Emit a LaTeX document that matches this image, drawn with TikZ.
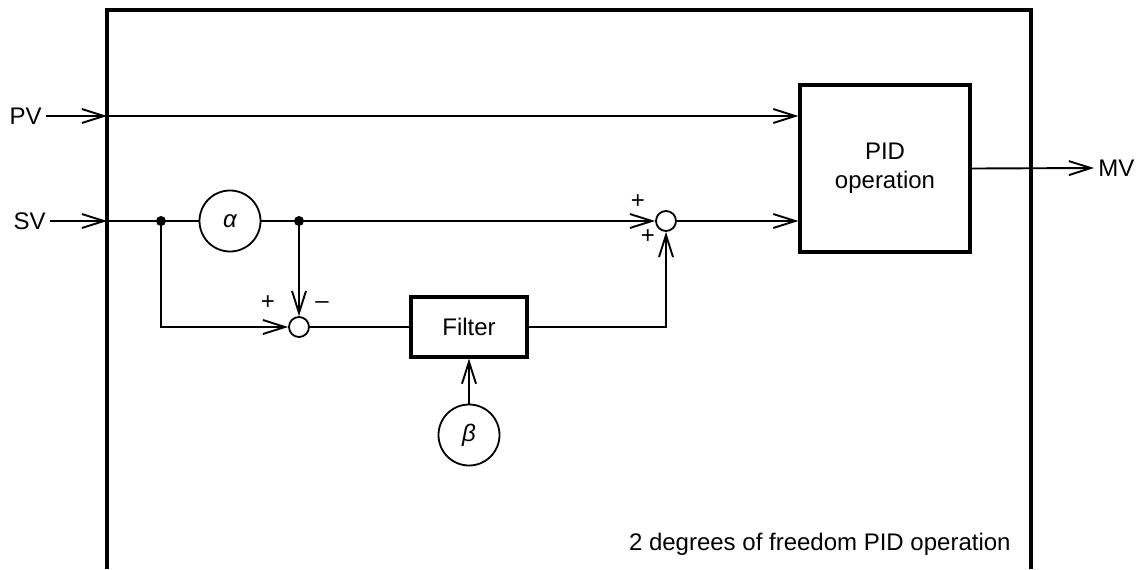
\documentclass[tikz,border=0pt]{standalone}
\usepackage{fontspec}
\setmainfont{Liberation Sans}
\usepackage{tikz}
\usetikzlibrary{arrows.meta, positioning, calc}
\definecolor{wirecol}{HTML}{000000}
\definecolor{bgfill}{HTML}{FFFFFF}
\tikzset{
  lbl/.style={font=\fontsize{12}{14.5}\selectfont, inner sep=2pt},
  blk/.style={rectangle, draw=wirecol, line width=1.6pt, align=center, font=\fontsize{12}{14.5}\selectfont, inner sep=2pt},
  opblk/.style={blk, minimum width=85pt, minimum height=83.5pt},
  filt/.style={blk, minimum width=58pt, minimum height=30pt},
  gain/.style={circle, draw=wirecol, line width=0.9pt, minimum size=30.5pt, inner sep=0pt, font=\fontsize{12}{14.5}\selectfont\itshape},
  sumpt/.style={circle, draw=wirecol, line width=0.9pt, minimum size=10pt, inner sep=0pt},
  dot/.style={circle, fill=wirecol, minimum size=5pt, inner sep=0pt},
  sgn/.style={font=\fontsize{12}{14.5}\selectfont, inner sep=0pt},
  frame/.style={line width=1.8pt, draw=wirecol},
  wire/.style={line width=0.95pt, draw=wirecol},
  arr/.style={-{Straight Barb[length=11pt, width=7pt]}, line width=0.95pt, draw=wirecol},
}
\begin{document}
\begin{tikzpicture}[x=0.5pt, y=-0.5pt]
  \useasboundingbox[fill=bgfill] (0,0) rectangle (1141,569);
  % outer frame, open at the bottom
  \draw[frame] (107,569) -- (107,10) -- (1031,10) -- (1031,569);
  \coordinate (pvin) at (107,116);
  \coordinate (svin) at (107,221);
  % blocks
  \node[opblk] (pid) at (885,168.5) {PID\\operation};
  \node[filt] (filt) at (469,327) {Filter};
  \node[gain, below=22.5pt of filt] (beta) {β};
  \node[gain] (alpha) at (230,221) {α};
  \node[sumpt] (sumA) at (666,221) {};
  \node[sumpt] (sumB) at (299,327) {};
  \node[dot] (dA) at (161,221) {};
  \node[dot] (dB) at (299,221) {};
  % signals
  \node[lbl, anchor=east] (pv) at (46,116) {PV};
  \node[lbl, anchor=east] (sv) at (50,221) {SV};
  \node[lbl, anchor=west] (mv) at (1094,168) {MV};
  % signs
  \node[sgn] (sA1) at (638,202) {+};
  \node[sgn] (sA2) at (648,237) {+};
  \node[sgn] (sB1) at (268,303) {+};
  \node[sgn] (sB2) at (322,305) {\textendash};
  \node[lbl, anchor=east] (cap) at (1015,544) {2 degrees of freedom PID operation};
  % connectors
  \draw[arr] (pv) -- (pvin);
  \draw[arr] (pvin) -- (pid.west |- pvin);
  \draw[arr] (sv) -- (svin);
  \draw[wire] (svin) -- (alpha);
  \draw[wire] (alpha) -- (dB.center);
  \draw[arr] (dB.center) -- (sumA);
  \draw[arr] (sumA) -- (pid.west |- sumA);
  \draw[arr] (dA.center) |- (sumB);
  \draw[arr] (dB.center) -- (sumB);
  \draw[wire] (sumB) -- (filt);
  \draw[arr] (filt) -| (sumA);
  \draw[arr] (beta) -- (filt);
  \draw[arr] (pid.east) -- (mv.west);
\end{tikzpicture}
\end{document}
